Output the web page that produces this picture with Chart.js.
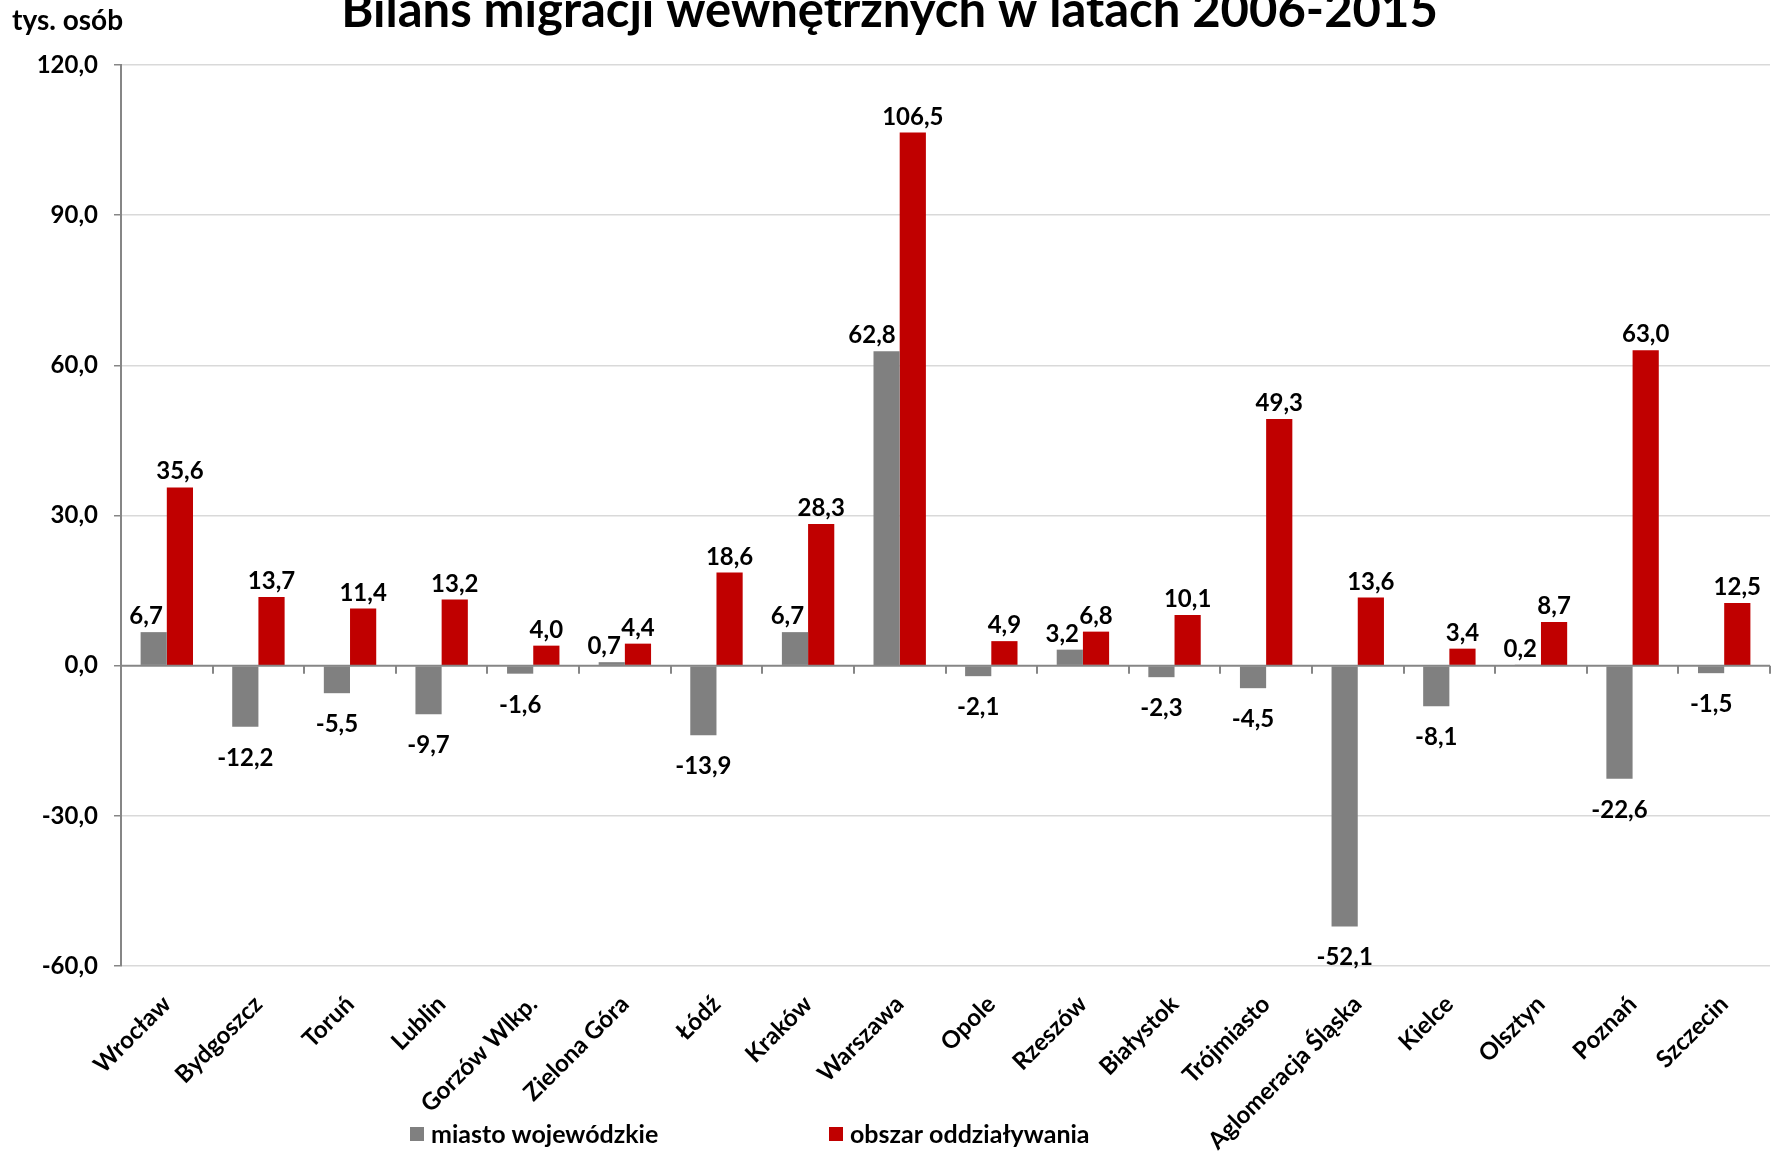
<!DOCTYPE html>
<html lang="pl">
<head>
<meta charset="utf-8">
<title>Bilans migracji wewnętrznych w latach 2006-2015</title>
<script src="https://cdn.jsdelivr.net/npm/chart.js@4/dist/chart.umd.min.js"></script>
<style>
  html, body { margin: 0; padding: 0; background: #fff; }
  #wrap { width: 1779px; height: 1155px; }
</style>
</head>
<body>
<div id="wrap"><canvas id="bilans" width="1779" height="1155"></canvas></div>
<script>
// miasta wojewódzkie i ich obszary oddziaływania
const cities = [
  'Wrocław', 'Bydgoszcz', 'Toruń', 'Lublin', 'Gorzów Wlkp.', 'Zielona Góra',
  'Łódź', 'Kraków', 'Warszawa', 'Opole', 'Rzeszów', 'Białystok',
  'Trójmiasto', 'Aglomeracja Śląska', 'Kielce', 'Olsztyn', 'Poznań', 'Szczecin'
]
// saldo migracji, tys. osób
const miasto = [6.7, -12.2, -5.5, -9.7, -1.6, 0.7, -13.9, 6.7, 62.8, -2.1, 3.2, -2.3, -4.5, -52.1, -8.1, 0.2, -22.6, -1.5]
const obszar = [35.6, 13.7, 11.4, 13.2, 4.0, 4.4, 18.6, 28.3, 106.5, 4.9, 6.8, 10.1, 49.3, 13.6, 3.4, 8.7, 63.0, 12.5]

const seriesNames = ['miasto wojewódzkie', 'obszar oddziaływania']
const seriesColors = ['#808080', '#c00000']
const yRange = { min: -60, max: 120, step: 30 }
const chartTitle = 'Bilans migracji wewnętrznych w latach 2006-2015'
const unitLabel = 'tys. osób'

const FONT = 'Lato, "Open Sans", sans-serif'
const fmt = v => v.toFixed(1).replace('.', ',')

// tytuł i jednostka nad wykresem
const headerPlugin = {
  id: 'header',
  afterDraw(chart) {
    const { ctx, width } = chart
    ctx.save()
    ctx.fillStyle = '#000'
    ctx.textBaseline = 'alphabetic'
    ctx.textAlign = 'center'
    ctx.font = 'bold 49px ' + FONT
    ctx.fillText(chartTitle, width / 2, 27)
    ctx.textAlign = 'left'
    ctx.font = 'bold 28px ' + FONT
    ctx.fillText(unitLabel, 12, 30)
    ctx.restore()
  }
}

// oś pozioma na poziomie zera z kreskami między kategoriami
const zeroAxisPlugin = {
  id: 'zeroAxis',
  afterDatasetsDraw(chart) {
    const { ctx, chartArea, scales } = chart
    const y0 = scales.y.getPixelForValue(0)
    const step = (chartArea.right - chartArea.left) / cities.length
    ctx.save()
    ctx.strokeStyle = '#868686'
    ctx.lineWidth = 2
    ctx.beginPath()
    ctx.moveTo(chartArea.left, y0)
    ctx.lineTo(chartArea.right, y0)
    for (let i = 1; i <= cities.length; i++) {
      const x = Math.round(chartArea.left + i * step)
      ctx.moveTo(x, y0)
      ctx.lineTo(x, y0 + 8)
    }
    ctx.stroke()
    ctx.restore()
  }
}

// etykiety wartości nad / pod słupkami
const valueLabelsPlugin = {
  id: 'valueLabels',
  afterDatasetsDraw(chart) {
    const { ctx } = chart
    const data = chart.data.datasets.map(ds => ds.data)
    ctx.save()
    ctx.fillStyle = '#000'
    ctx.font = 'bold 24px ' + FONT
    ctx.textBaseline = 'alphabetic'
    chart.data.datasets.forEach((ds, i) => {
      chart.getDatasetMeta(i).data.forEach((bar, j) => {
        const v = ds.data[j]
        const y = v >= 0 ? bar.y - 8 : bar.y + 39
        // dodatnia etykieta miasta obok wyższego słupka przesunięta w lewo
        if (i === 0 && v >= 0 && data[1][j] > v) {
          ctx.textAlign = 'right'
          ctx.fillText(fmt(v), bar.x + bar.width / 2 - 4, y)
        } else {
          ctx.textAlign = 'center'
          ctx.fillText(fmt(v), bar.x, y)
        }
      })
    })
    ctx.restore()
  }
}

// legenda w dolnej części
const legendPlugin = {
  id: 'bottomLegend',
  afterDraw(chart) {
    const { ctx } = chart
    const itemX = [410, 829]
    ctx.save()
    ctx.font = 'bold 25px ' + FONT
    ctx.textBaseline = 'middle'
    ctx.textAlign = 'left'
    chart.data.datasets.forEach((ds, i) => {
      const x = itemX[i]
      ctx.fillStyle = ds.backgroundColor
      ctx.fillRect(x, 1127, 14, 14)
      ctx.fillStyle = '#000'
      ctx.fillText(ds.label, x + 21, 1135)
    })
    ctx.restore()
  }
}

new Chart(document.getElementById('bilans'), {
  type: 'bar',
  data: {
    labels: cities,
    datasets: [
      { label: seriesNames[0], data: miasto, backgroundColor: seriesColors[0] },
      { label: seriesNames[1], data: obszar, backgroundColor: seriesColors[1] }
    ]
  },
  options: {
    responsive: false,
    animation: false,
    devicePixelRatio: 1,
    categoryPercentage: 0.572,
    barPercentage: 1.0,
    layout: { padding: { top: 65, right: 9, bottom: 0, left: 0 } },
    plugins: {
      legend: { display: false },
      title: { display: false },
      tooltip: { enabled: false }
    },
    scales: {
      x: {
        grid: { display: false, drawTicks: false },
        border: { display: false },
        ticks: {
          autoSkip: false,
          maxRotation: 45,
          minRotation: 45,
          padding: 24,
          color: '#000',
          font: { family: FONT, size: 24, weight: 'bold' }
        },
        afterFit(scale) { scale.height = 189 }
      },
      y: {
        min: yRange.min,
        max: yRange.max,
        grid: {
          color: c => (c.tick.value === 0 ? 'rgba(0,0,0,0)' : '#d9d9d9'),
          lineWidth: 1.5,
          tickLength: 7,
          tickColor: '#868686'
        },
        border: { color: '#868686', width: 2 },
        ticks: {
          stepSize: yRange.step,
          padding: 16,
          color: '#000',
          font: { family: FONT, size: 24, weight: 'bold' },
          callback: v => fmt(v)
        },
        afterFit(scale) { scale.width = 121 }
      }
    }
  },
  plugins: [headerPlugin, zeroAxisPlugin, valueLabelsPlugin, legendPlugin]
})
</script>
</body>
</html>
